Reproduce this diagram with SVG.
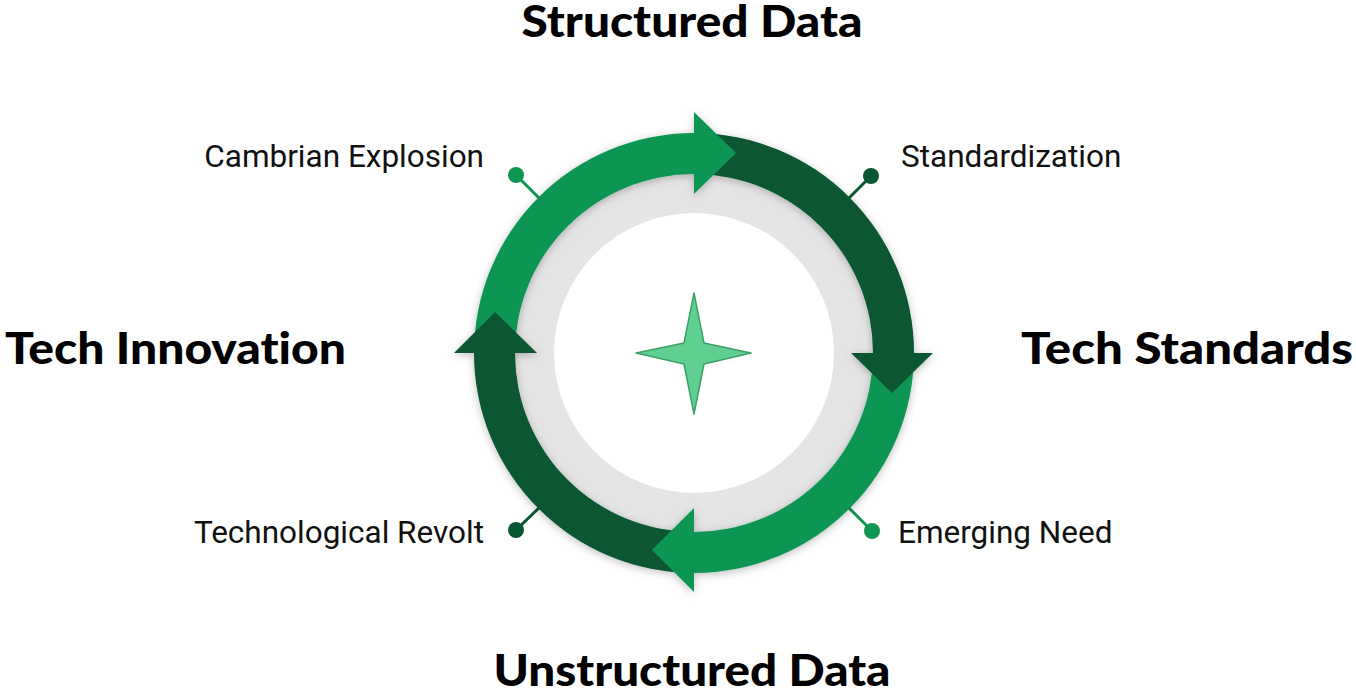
<svg xmlns="http://www.w3.org/2000/svg" width="1356" height="692" viewBox="0 0 1356 692">
  <defs>
    <filter id="shadow" x="-20%" y="-20%" width="140%" height="140%">
      <feDropShadow dx="0" dy="2" stdDeviation="4" flood-color="#000" flood-opacity="0.25"/>
    </filter>
    <style>
      .light { fill: #109652; }
      .dark { fill: #085733; }
      .head { font-family: "Lato", "Inter", "Liberation Sans", sans-serif; font-weight: 900; font-size: 43px; fill: #000; font-variant-ligatures: none; font-feature-settings: "liga" 0, "dlig" 0; }
      .lbl { font-family: Roboto, "Liberation Sans", sans-serif; font-size: 31.5px; fill: #111; }
      .pinL { stroke: #109652; stroke-width: 3; fill: none; }
      .pinD { stroke: #085733; stroke-width: 3; fill: none; }
    </style>
  </defs>
  <rect width="1356" height="692" fill="#fff"/>

  <g id="background-disc">
    <circle cx="694" cy="353" r="180" fill="#e5e5e5"/>
    <circle cx="694" cy="353" r="140" fill="#fff"/>
  </g>

  <g id="connectors">
    <line class="pinL" x1="516" y1="175" x2="540" y2="199"/>
    <circle cx="516" cy="175" r="8" class="light"/>
    <line class="pinD" x1="871" y1="176" x2="848" y2="199"/>
    <circle cx="871" cy="176" r="8" class="dark"/>
    <line class="pinL" x1="872" y1="531" x2="848" y2="507"/>
    <circle cx="872" cy="531" r="8" class="light"/>
    <line class="pinD" x1="516" y1="530" x2="540" y2="507"/>
    <circle cx="516" cy="530" r="8" class="dark"/>
  </g>

  <g id="cycle-ring" filter="url(#shadow)">
    <path class="light" d="M474,353 A220,220 0 0 1 694,133 L694,174 A179,179 0 0 0 515,353 Z"/>
    <path class="dark" d="M694,133 A220,220 0 0 1 914,353 L873,353 A179,179 0 0 0 694,174 Z"/>
    <path class="light" d="M914,353 A220,220 0 0 1 694,573 L694,532 A179,179 0 0 0 873,353 Z"/>
    <path class="dark" d="M694,573 A220,220 0 0 1 474,353 L515,353 A179,179 0 0 0 694,532 Z"/>
    <polygon class="light" points="694,112 736,153 694,194"/>
    <polygon class="dark" points="851,353 933,353 892,393"/>
    <polygon class="light" points="694,508 694,592 652,550"/>
    <polygon class="dark" points="454,353 537,353 495,312"/>
  </g>

  <g id="center-star">
    <polygon points="694,293 704,343 751,353 704,364 694,414 684,364 636,353 684,343" fill="#5fcf92" stroke="#3e9f66" stroke-width="1.5" stroke-linejoin="round"/>
  </g>

  <g id="node-structured-data">
    <text class="head" x="692" y="37" text-anchor="middle" textLength="341" lengthAdjust="spacingAndGlyphs">Structured Data</text>
  </g>
  <g id="node-tech-standards">
    <text class="head" x="1353" y="364" text-anchor="end" textLength="332" lengthAdjust="spacingAndGlyphs">Tech Standards</text>
  </g>
  <g id="node-unstructured-data">
    <text class="head" x="692" y="686" text-anchor="middle" textLength="397" lengthAdjust="spacingAndGlyphs">Unstructured Data</text>
  </g>
  <g id="node-tech-innovation">
    <text class="head" x="5" y="364" textLength="341" lengthAdjust="spacingAndGlyphs">Tech Innovation</text>
  </g>

  <g id="label-cambrian">
    <text class="lbl" x="484" y="167" text-anchor="end">Cambrian Explosion</text>
  </g>
  <g id="label-standardization">
    <text class="lbl" x="901" y="167">Standardization</text>
  </g>
  <g id="label-emerging">
    <text class="lbl" x="898" y="543">Emerging Need</text>
  </g>
  <g id="label-revolt">
    <text class="lbl" x="484" y="543" text-anchor="end">Technological Revolt</text>
  </g>
</svg>
